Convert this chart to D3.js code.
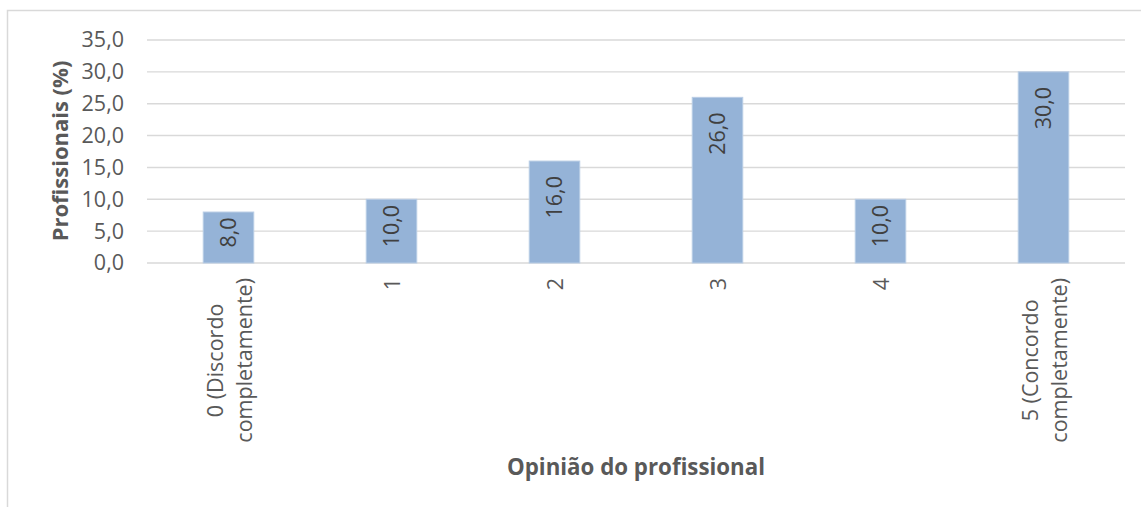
<!DOCTYPE html>
<html>
<head>
<meta charset="utf-8">
<script src="https://cdn.jsdelivr.net/npm/d3@7"></script>
<style>
  html, body { margin: 0; padding: 0; background: #fff; }
  svg { display: block; }
  text { font-family: "Open Sans", "DejaVu Sans", sans-serif; }
</style>
</head>
<body>
<svg id="chart" width="1141" height="507"></svg>
<script>
const categories = ["0 (Discordo|completamente)", "1", "2", "3", "4", "5 (Concordo|completamente)"];
const values = [8.0, 10.0, 16.0, 26.0, 10.0, 30.0];
const yTicks = [0, 5, 10, 15, 20, 25, 30, 35];
const yTitle = "Profissionais (%)";
const xTitle = "Opinião do profissional";

const W = 1141, H = 507;
const svg = d3.select("#chart");
const fmt = v => d3.format(".1f")(v).replace(".", ",");
const textColor = "#595959";

// outer border
svg.append("rect")
  .attr("x", 7.5).attr("y", 10.5)
  .attr("width", W + 10).attr("height", H)
  .attr("fill", "#fff").attr("stroke", "#d9d9d9").attr("stroke-width", 1.5);

const plot = { left: 147, right: 1125, top: 40, bottom: 263 };

const x = d3.scaleBand()
  .domain(categories)
  .range([plot.left, plot.right])
  .paddingInner(0.69).paddingOuter(0.345);

const y = d3.scaleLinear().domain([0, 35]).range([plot.bottom, plot.top]);

// gridlines
svg.append("g").selectAll("line").data(yTicks).join("line")
  .attr("x1", plot.left).attr("x2", plot.right)
  .attr("y1", d => y(d)).attr("y2", d => y(d))
  .attr("stroke", "#d9d9d9").attr("stroke-width", 1.4);

// y axis tick labels
const yAxis = d3.axisLeft(y).tickValues(yTicks).tickFormat(fmt).tickSize(0).tickPadding(0);
const yg = svg.append("g").attr("transform", `translate(${plot.left - 23},0)`).call(yAxis);
yg.select(".domain").remove();
yg.selectAll("text")
  .attr("fill", textColor)
  .style("font-family", "'Open Sans', sans-serif")
  .style("font-size", "21.5px");

// bars
svg.append("g").selectAll("rect").data(values).join("rect")
  .attr("x", (d, i) => x(categories[i]))
  .attr("y", d => y(d))
  .attr("width", x.bandwidth())
  .attr("height", d => y(0) - y(d))
  .attr("fill", "#95b3d7")
  .attr("stroke", "#b9cde5").attr("stroke-width", 1);

// bar value labels (inside end; centred when the bar is too short)
const pad = 15;
const lab = svg.append("g").selectAll("text").data(values).join("text")
  .attr("dy", "0.36em")
  .attr("fill", "#404040")
  .style("font-size", "21.5px")
  .text(d => fmt(d));
lab.each(function(d, i) {
  const t = d3.select(this);
  const L = this.getComputedTextLength();
  const cx = x(categories[i]) + x.bandwidth() / 2;
  const top = y(d), h = y(0) - y(d);
  let anchorY;
  if (L + 2 * pad <= h) {
    anchorY = top + pad;
  } else {
    anchorY = top + h / 2 - 5 - L / 2;
  }
  t.attr("text-anchor", "end")
   .attr("transform", `translate(${cx},${anchorY}) rotate(-90)`);
});

// x tick labels (rotated, multi-line)
const lh = 29.5;
const xg = svg.append("g");
categories.forEach(c => {
  const lines = c.split("|");
  const g = xg.append("g")
    .attr("transform", `translate(${x(c) + x.bandwidth() / 2 + 1},${plot.bottom + 15}) rotate(-90)`);
  const texts = lines.map((ln, j) => g.append("text")
    .attr("y", (j - (lines.length - 1) / 2) * lh)
    .attr("dy", "0.36em")
    .attr("text-anchor", "middle")
    .attr("fill", textColor)
    .style("font-size", "21.5px")
    .text(ln));
  const L = d3.max(texts, t => t.node().getComputedTextLength());
  texts.forEach(t => t.attr("x", -L / 2));
});

// axis titles
svg.append("text")
  .attr("transform", `translate(68,151) rotate(-90)`)
  .attr("text-anchor", "middle")
  .attr("fill", textColor)
  .style("font-weight", "bold")
  .style("font-size", "22px")
  .text(yTitle);

svg.append("text")
  .attr("x", (plot.left + plot.right) / 2).attr("y", 475)
  .attr("text-anchor", "middle")
  .attr("fill", textColor)
  .style("font-weight", "bold")
  .style("font-size", "22.3px")
  .text(xTitle);
</script>
</body>
</html>
